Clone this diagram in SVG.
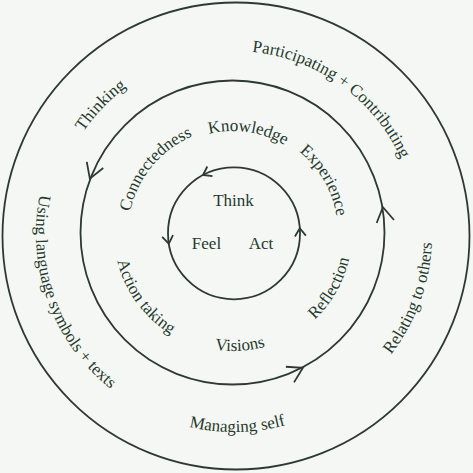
<svg xmlns="http://www.w3.org/2000/svg" xmlns:xlink="http://www.w3.org/1999/xlink" width="473" height="473" viewBox="0 0 473 473">
<style>
.ring{fill:none;stroke:#2e3a31;stroke-width:1.8}
.chev{fill:none;stroke:#2e3a31;stroke-width:1.8;stroke-linejoin:miter}
text{font-family:"Liberation Serif","Times New Roman",serif;font-size:17px;fill:#263a2d}
.c{text-anchor:middle}
</style>
<defs>
<path id="chevM" class="chev" d="M-14.6,-8.8 L0,0 L-14.6,8.8"/>
<path id="chevI" class="chev" d="M-7.8,-5.5 L0,0 L-7.8,5.5"/>
<path id="pPart" d="M158.8,67.1 A183,183 0 0 1 416.1,252.3"/>
<path id="pThinking" d="M52.4,221.3 A182,182 0 0 1 215,53"/>
<path id="pUsing" d="M106.7,82.3 A198,198 0 0 0 234,432"/>
<path id="pRelating" d="M301.7,420.1 A198,198 0 0 0 405.5,135"/>
<path id="pManaging" d="M109.4,387.9 A198,198 0 0 0 363.9,383.4"/>
<path id="pKnow" d="M172.3,151 A102,102 0 0 1 315,172.3"/>
<path id="pConn" d="M129.8,252.1 A105,105 0 0 1 232.1,128"/>
<path id="pExp" d="M260.2,131.6 A105,105 0 0 1 334.4,260.2"/>
<path id="pRefl" d="M264.6,347.7 A119,119 0 0 0 347.7,201.4"/>
<path id="pVis" d="M171.3,333.6 A118,118 0 0 0 306.5,325.3"/>
<path id="pAct" d="M115.5,214.4 A119,119 0 0 0 214.4,350.5"/>
</defs>
<rect width="473" height="473" fill="#f5f7f4"/>
<g id="outer-ring">
<circle class="ring" cx="236" cy="236" r="233.5"/>
<text class="c"><textPath xlink:href="#pPart" href="#pPart" startOffset="50%">Participating + Contributing</textPath></text>
<text class="c"><textPath xlink:href="#pThinking" href="#pThinking" startOffset="50%">Thinking</textPath></text>
<text class="c"><textPath xlink:href="#pUsing" href="#pUsing" startOffset="50%">Using language symbols + texts</textPath></text>
<text class="c"><textPath xlink:href="#pRelating" href="#pRelating" startOffset="50%">Relating to others</textPath></text>
<text class="c"><textPath xlink:href="#pManaging" href="#pManaging" startOffset="50%">Managing self</textPath></text>
</g>
<g id="middle-ring">
<circle class="ring" cx="232.5" cy="232.5" r="152"/>
<text class="c"><textPath xlink:href="#pKnow" href="#pKnow" startOffset="50%">Knowledge</textPath></text>
<text class="c"><textPath xlink:href="#pConn" href="#pConn" startOffset="50%">Connectedness</textPath></text>
<text class="c"><textPath xlink:href="#pExp" href="#pExp" startOffset="50%">Experience</textPath></text>
<text class="c"><textPath xlink:href="#pRefl" href="#pRefl" startOffset="50%">Reflection</textPath></text>
<text class="c"><textPath xlink:href="#pVis" href="#pVis" startOffset="50%">Visions</textPath></text>
<text class="c"><textPath xlink:href="#pAct" href="#pAct" startOffset="50%">Action taking</textPath></text>
</g>
<g id="inner-ring">
<circle class="ring" cx="234" cy="233.3" r="66"/>
<text class="c" x="233.5" y="206">Think</text>
<text class="c" x="206.5" y="249">Feel</text>
<text class="c" x="261" y="249">Act</text>
</g>
<g id="connectors">
<use xlink:href="#chevM" href="#chevM" transform="translate(89.85,178.6) rotate(110.7)"/>
<use xlink:href="#chevM" href="#chevM" transform="translate(382.9,207.1) rotate(-99.6)"/>
<use xlink:href="#chevM" href="#chevM" transform="translate(302.9,367.8) rotate(-27.5)"/>
<use xlink:href="#chevI" href="#chevI" transform="translate(203,175) rotate(152)"/>
<use xlink:href="#chevI" href="#chevI" transform="translate(168.8,243.6) rotate(81)"/>
<use xlink:href="#chevI" href="#chevI" transform="translate(299.8,228.3) rotate(-94.3)"/>
</g>
</svg>
